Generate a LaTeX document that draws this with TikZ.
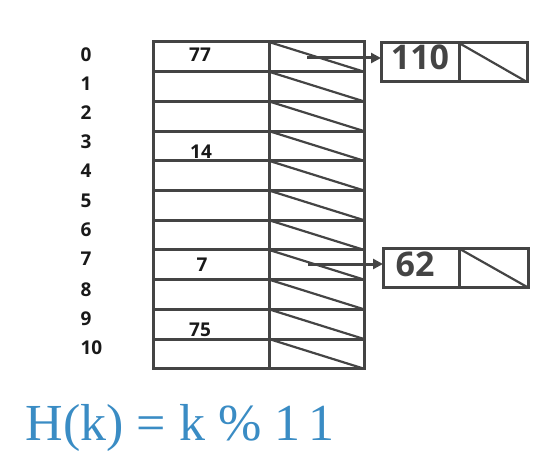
\documentclass[tikz,border=0pt]{standalone}
\usepackage{fontspec}
\setmainfont{Open Sans}
\newfontfamily\formulafont{Liberation Serif}
\usetikzlibrary{arrows.meta}
\definecolor{linegray}{HTML}{444444}
\definecolor{formulablue}{HTML}{3A8CC4}
\tikzset{
  cell/.style={draw=linegray,line width=3pt,inner sep=0pt,outer sep=0pt,minimum height=29.7pt},
  keycell/.style={cell,minimum width=116pt},
  ptrcell/.style={cell,minimum width=95pt},
  idx/.style={anchor=west,font=\bfseries\fontsize{19}{19}\selectfont,text=black!90},
  val/.style={font=\bfseries\fontsize{19}{19}\selectfont,text=black!90},
  boxcell/.style={draw=linegray,line width=3pt,inner sep=0pt,outer sep=0pt,minimum height=39pt},
  big/.style={font=\bfseries\fontsize{34}{34}\selectfont,text=linegray},
  slash/.style={draw=linegray,line width=2.2pt},
  link/.style={draw=linegray,line width=3pt,-{Triangle[length=10pt,width=10pt]}}
}
\begin{document}
\begin{tikzpicture}[x=1pt,y=-1pt]
      \useasboundingbox (0,0) rectangle (553,465);
      % table
      \draw
        (211,56.85) node[keycell] (k0){}
        (211,86.55) node[keycell] (k1){}
        (211,116.25) node[keycell] (k2){}
        (211,145.95) node[keycell] (k3){}
        (211,175.65) node[keycell] (k4){}
        (211,205.35) node[keycell] (k5){}
        (211,235.05) node[keycell] (k6){}
        (211,264.75) node[keycell] (k7){}
        (211,294.45) node[keycell] (k8){}
        (211,324.15) node[keycell] (k9){}
        (211,353.85) node[keycell] (k10){};
      \draw
        (316.5,56.85) node[ptrcell] (p0){}
        (316.5,86.55) node[ptrcell] (p1){}
        (316.5,116.25) node[ptrcell] (p2){}
        (316.5,145.95) node[ptrcell] (p3){}
        (316.5,175.65) node[ptrcell] (p4){}
        (316.5,205.35) node[ptrcell] (p5){}
        (316.5,235.05) node[ptrcell] (p6){}
        (316.5,264.75) node[ptrcell] (p7){}
        (316.5,294.45) node[ptrcell] (p8){}
        (316.5,324.15) node[ptrcell] (p9){}
        (316.5,353.85) node[ptrcell] (p10){};
      \begin{scope}[slash]
        \draw (p0.north west) to (p0.south east);
        \draw (p1.north west) to (p1.south east);
        \draw (p2.north west) to (p2.south east);
        \draw (p3.north west) to (p3.south east);
        \draw (p4.north west) to (p4.south east);
        \draw (p5.north west) to (p5.south east);
        \draw (p6.north west) to (p6.south east);
        \draw (p7.north west) to (p7.south east);
        \draw (p8.north west) to (p8.south east);
        \draw (p9.north west) to (p9.south east);
        \draw (p10.north west) to (p10.south east);
      \end{scope}
      % indices
      \draw
        (77,55) node[idx] (i0){0}
        (77,84) node[idx] (i1){1}
        (77,113) node[idx] (i2){2}
        (77,142) node[idx] (i3){3}
        (77,171) node[idx] (i4){4}
        (77,201) node[idx] (i5){5}
        (77,230) node[idx] (i6){6}
        (77,259) node[idx] (i7){7}
        (77,290) node[idx] (i8){8}
        (77,319) node[idx] (i9){9}
        (77,348) node[idx] (i10){10};
      % keys
      \draw
        (200,55) node[val] (v0){77}
        (201,152) node[val] (v3){14}
        (202,265) node[val] (v7){7}
        (200,330) node[val] (v9){75};
      % chained entries
      \draw
        (420,62.5) node[boxcell,minimum width=78pt] (b0){}
        (493,62.5) node[boxcell,minimum width=68pt] (b0p){}
        (421,268) node[boxcell,minimum width=76pt] (b7){}
        (493.5,268) node[boxcell,minimum width=69pt] (b7p){}
        (420,57) node[big] (t0){110}
        (415,264) node[big] (t7){62};
      \begin{scope}[slash]
        \draw (b0p.north west) to (b0p.south east);
        \draw (b7p.north west) to (b7p.south east);
      \end{scope}
      \coordinate (a0) at (307,58);
      \coordinate (a7) at (308,264);
      \draw[link] (a0) to (a0 -| b0.west);
      \draw[link] (a7) to (a7 -| b7.west);
      % hash function
      \node[anchor=base west,text=formulablue,font=\formulafont\fontsize{52}{52}\selectfont] (hk) at (22,440) {H(k) = k \% 1\,1};
\end{tikzpicture}
\end{document}
